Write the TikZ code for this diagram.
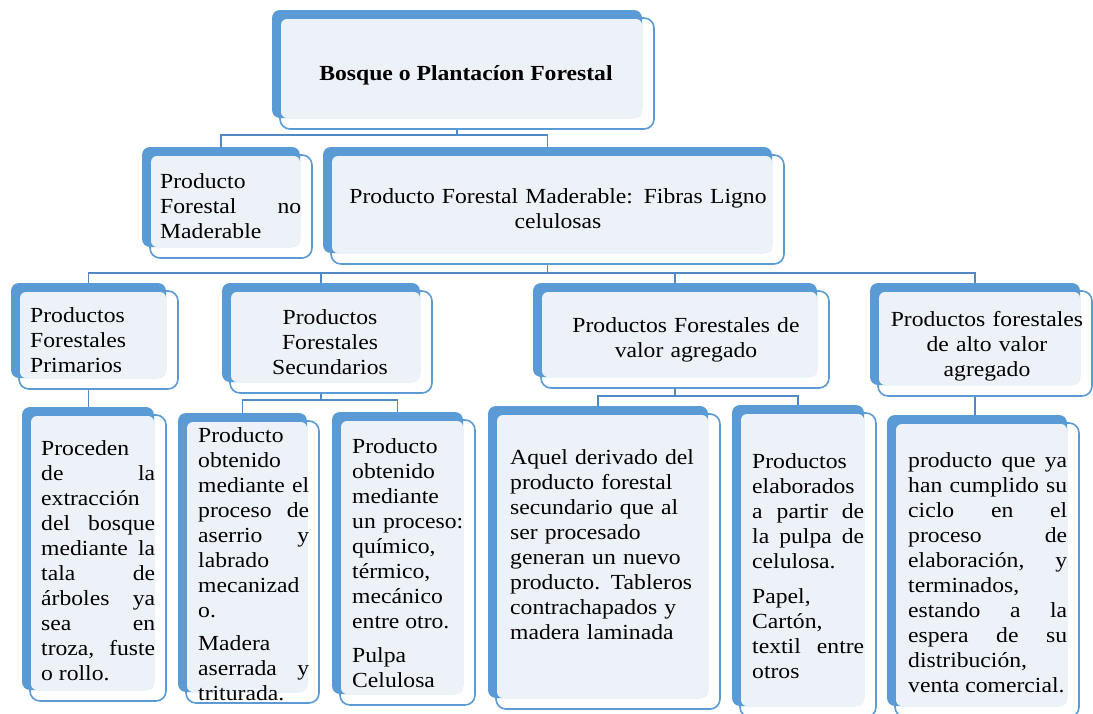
\documentclass[tikz,border=0pt]{standalone}
\usepackage{fontspec}
\setmainfont{Liberation Serif}[FakeStretch=1.1]
\usetikzlibrary{backgrounds}

\definecolor{azul}{HTML}{5B9BD5}
\definecolor{claro}{HTML}{EDF2F9}
\definecolor{azulosc}{HTML}{5089C6}

\tolerance=10000 \hyphenpenalty=10000 \hbadness=10000

\tikzset{
  fondo/.style={fill=azul, rounded corners=8pt, inner sep=0pt},
  marco/.style={draw=azul, fill=white, line width=1.6pt, rounded corners=10pt},
  relleno/.style={fill=claro, rounded corners=6pt},
  texto/.style={inner sep=0pt, font=\fontsize{21.5}{25}\selectfont},
  justo/.style={texto, anchor=base west, align=justify},
  izq/.style={texto, anchor=base west, align=left},
  centro/.style={texto, anchor=base, align=center},
  enlace/.style={draw=azulosc, line width=1.6pt},
}

% caja: nombre, x1, y1, x2, y2 del fondo azul
\newcommand{\caja}[5]{%
  \path[marco] ({#2+8},{#3+8}) rectangle ({#4+12},{#5+11});
  \node[fondo, minimum width={(#4-#2)*1pt}, minimum height={(#5-#3)*1pt}] (#1) at ({(#2+#4)/2},{(#3+#5)/2}) {};
  \path[relleno] ({#2+9},{#3+9}) rectangle (#4,#5);
}

\begin{document}
\begin{tikzpicture}[x=1pt,y=-1pt]
  \useasboundingbox (0,0) rectangle (1093,713);
  \clip (0,0) rectangle (1093,713);

  \caja{raiz}{272}{10}{642}{118}
  \caja{nomad}{142}{147}{300}{247}
  \caja{mad}{323}{147}{772}{253}
  \caja{prim}{11}{283}{166}{378}
  \caja{secu}{222}{283}{420}{382}
  \caja{valor}{533}{283}{817}{377}
  \caja{alto}{870}{283}{1080}{385}
  \caja{proc}{22}{407}{154}{690}
  \caja{aserr}{178}{413}{307}{692}
  \caja{quim}{332}{412}{463}{694}
  \caja{aquel}{488}{406}{708}{698}
  \caja{papel}{732}{405}{864}{706}
  \caja{ciclo}{887}{415}{1067}{706}

  \node[texto, anchor=base, font=\fontsize{21.5}{25}\selectfont\bfseries] (t-raiz) at (466,80) {Bosque o Plantacíon Forestal};
  \node[justo, text width=141pt] (t-nomad) at (160,188) {Producto\newline Forestal no\linebreak Maderable};
  \node[centro, text width=440pt] (t-mad) at (558,203) {Producto Forestal Maderable: Fibras Ligno\\ celulosas};

  \node[izq, text width=140pt] (t-prim) at (30,322) {Productos\\ Forestales\\ Primarios};
  \node[centro, text width=200pt] (t-secu) at (330,324) {Productos\\ Forestales\\ Secundarios};
  \node[centro, text width=280pt] (t-valor) at (686,332) {Productos Forestales de\\ valor agregado};
  \node[centro, text width=210pt] (t-alto) at (987,326) {Productos forestales\\ de alto valor\\ agregado};

  \node[justo, text width=114pt] (t-proc) at (41,455) {Proceden\newline de la\linebreak extracción\newline del bosque\linebreak mediante la\linebreak tala de\linebreak árboles ya\linebreak sea en\linebreak troza, fuste\linebreak o rollo.};
  \node[justo, text width=111pt] (t-aserr) at (198,442) {Producto\newline obtenido\newline mediante el\linebreak proceso de\linebreak aserrio y\linebreak labrado\newline mecanizad\newline o.\par\vspace{8pt}Madera\newline aserrada y\linebreak triturada.};
  \node[justo, text width=111pt] (t-quim) at (352,453) {Producto\newline obtenido\newline mediante\newline un proceso:\linebreak químico,\newline térmico,\newline mecánico\newline entre otro.\par\vspace{9pt}Pulpa\newline Celulosa};
  \node[izq, text width=200pt] (t-aquel) at (510,464) {Aquel derivado del\\ producto forestal\\ secundario que al\\ ser procesado\\ generan un nuevo\\ producto. Tableros\\ contrachapados y\\ madera laminada};
  \node[justo, text width=112pt] (t-papel) at (752,468) {Productos\newline elaborados\newline a partir de\linebreak la pulpa de\linebreak celulosa.\par\vspace{10pt}Papel,\newline Cartón,\newline textil entre\linebreak otros};
  \node[justo, text width=159pt] (t-ciclo) at (908,467) {producto que ya\linebreak han cumplido su\linebreak ciclo en el\linebreak proceso de\linebreak elaboración, y\linebreak terminados,\newline estando a la\linebreak espera de su\linebreak distribución,\newline venta comercial.};

  \begin{scope}[on background layer]
    \path (raiz.south) ++(0,17) coordinate (b1);
    \path (mad.south) ++(0,20) coordinate (b2);
    \path (secu.south) ++(0,18) coordinate (b3);
    \path (valor.south) ++(0,19) coordinate (b4);
    \draw[enlace] (raiz) -- (b1);
    \draw[enlace] (nomad) |- (b1) -| (mad);
    \draw[enlace] (mad) -- (b2);
    \draw[enlace] (prim) |- (b2) -| (alto);
    \draw[enlace] (secu) -- (secu |- b2);
    \draw[enlace] (valor) -- (valor |- b2);
    \draw[enlace] (prim.south) -- (prim.south |- proc.north);
    \draw[enlace] (secu) -- (b3);
    \draw[enlace] (aserr) |- (b3) -| (quim);
    \draw[enlace] (valor) -- (b4);
    \draw[enlace] (aquel) |- (b4) -| (papel);
    \draw[enlace] (alto.south) -- (alto.south |- ciclo.north);
  \end{scope}
\end{tikzpicture}
\end{document}
